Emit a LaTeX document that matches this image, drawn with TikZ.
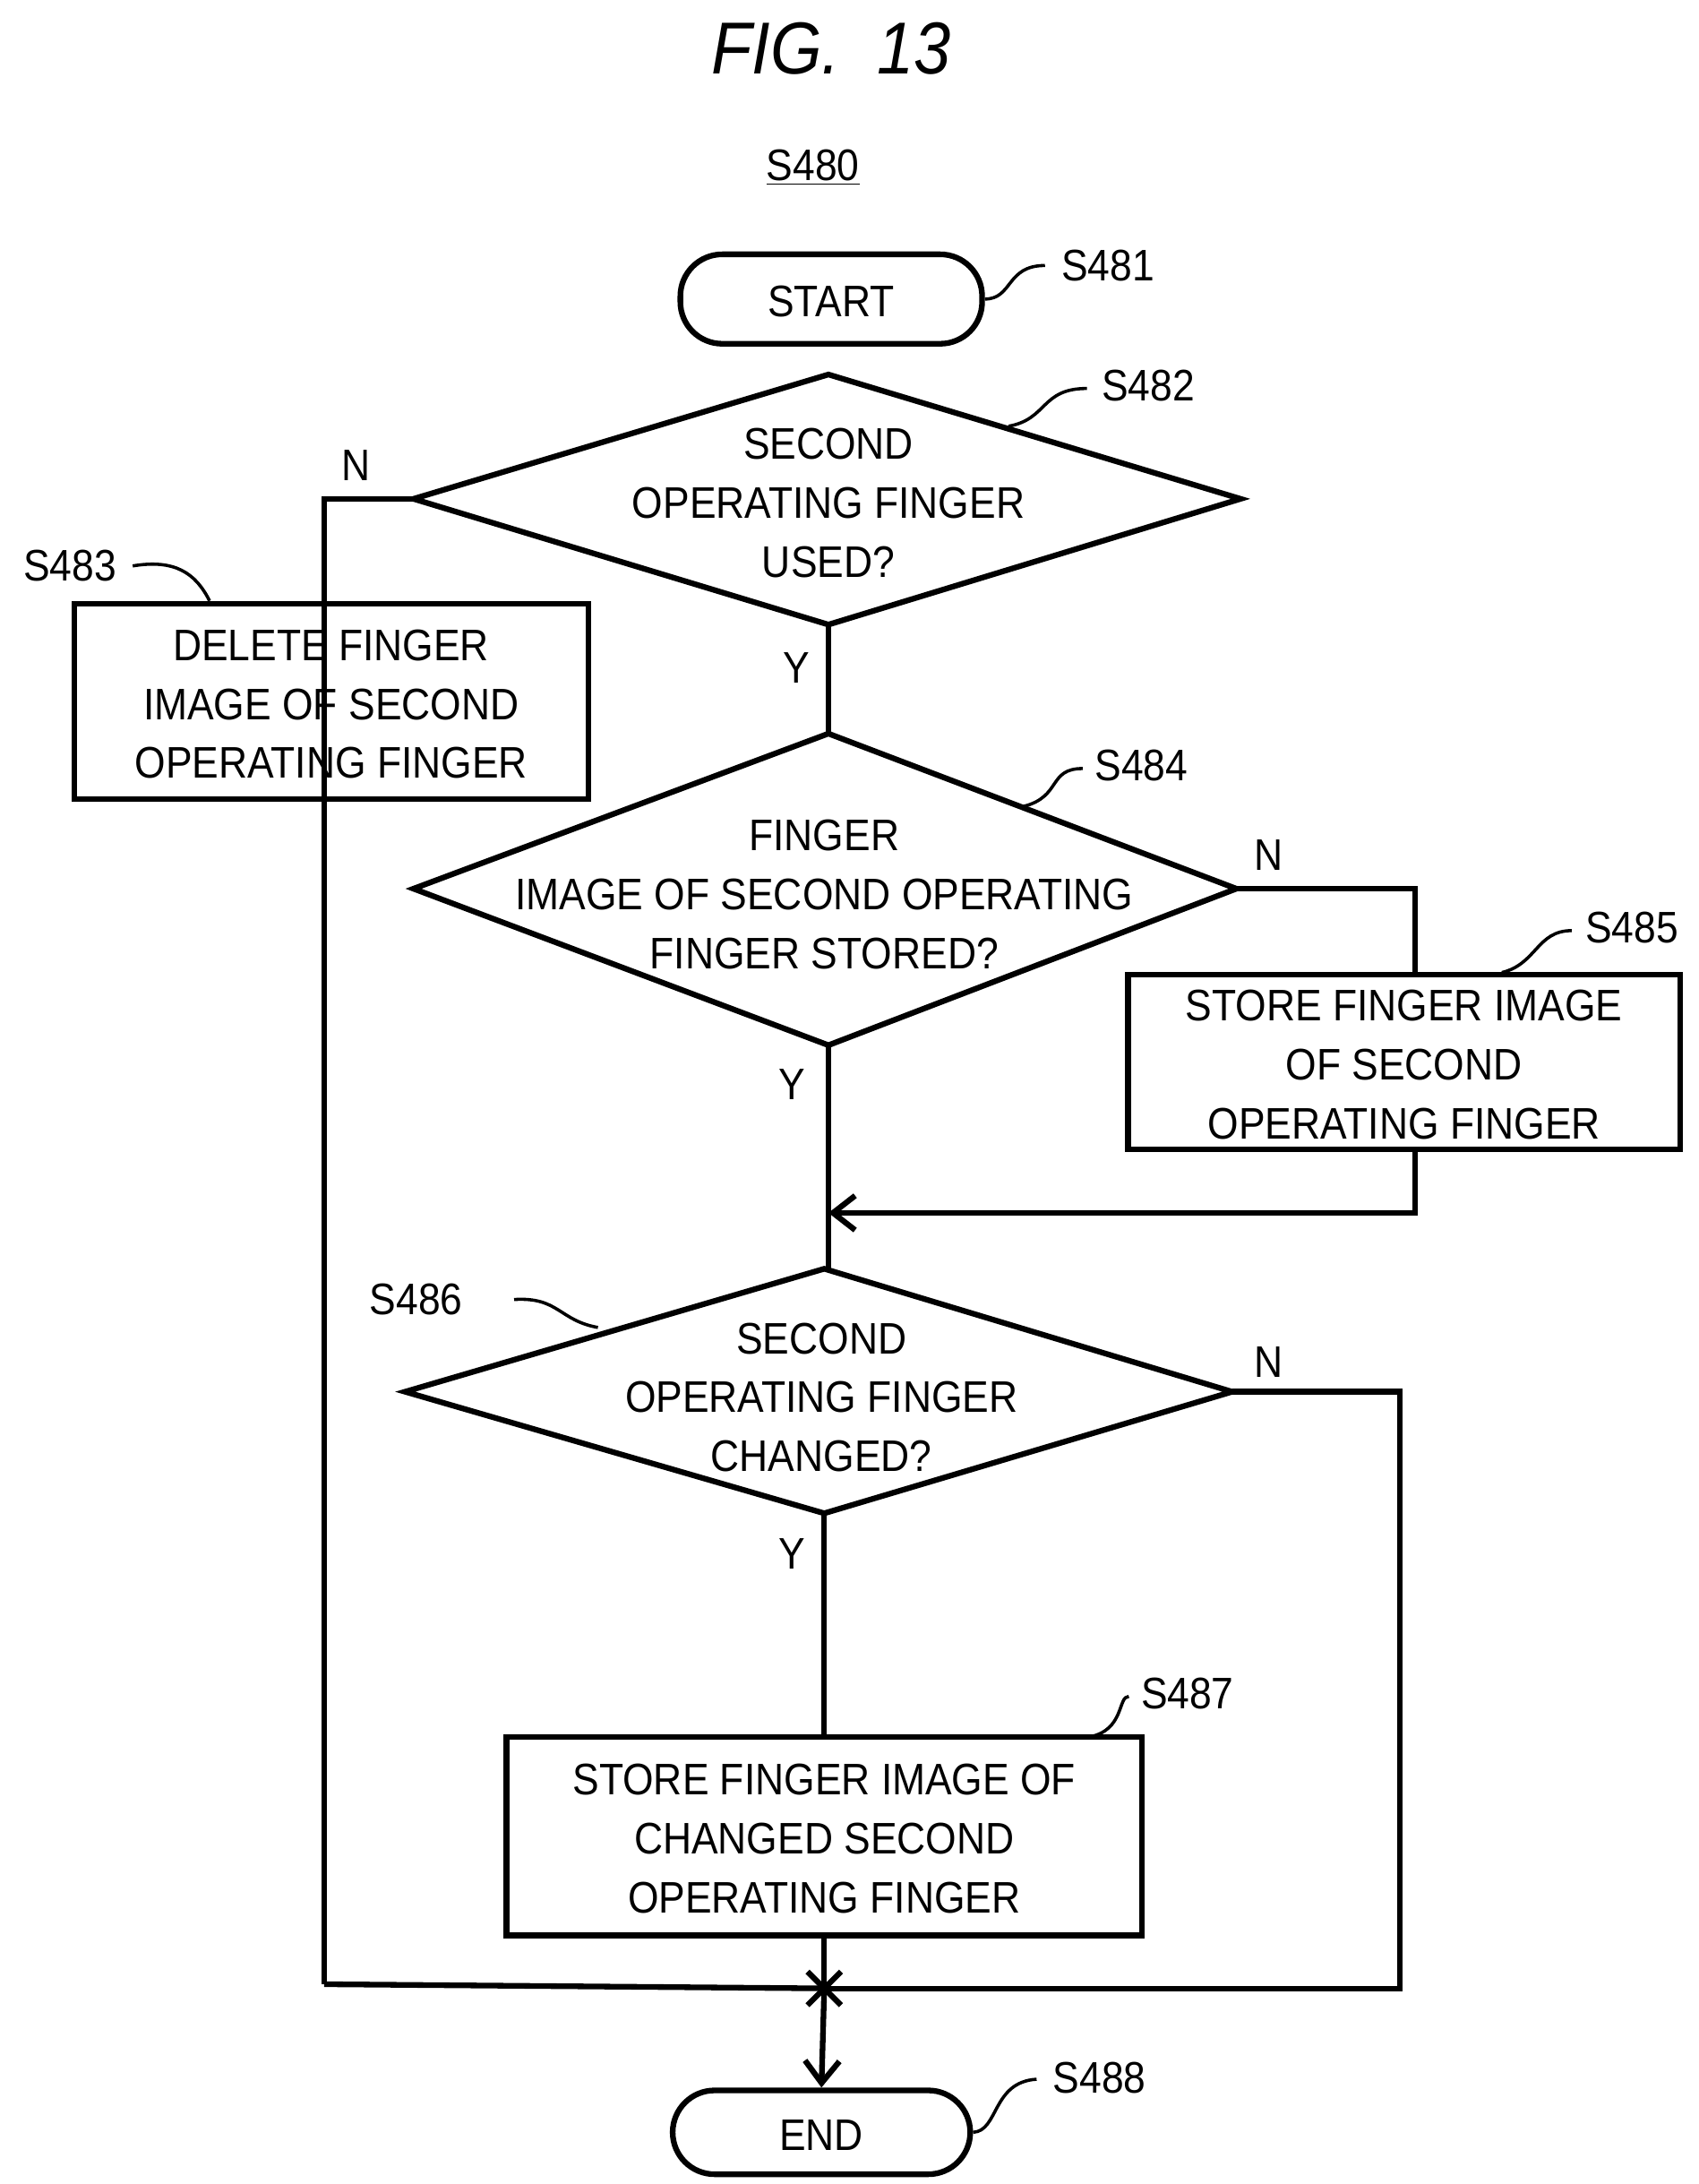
\documentclass[tikz,border=0pt]{standalone}
\usepackage{fontspec}
\setmainfont{Liberation Sans}[FakeStretch=0.9]
\usetikzlibrary{arrows.meta}
\begin{document}
\begin{tikzpicture}[x=0.02cm,y=-0.02cm,line width=2.3pt,
  txt/.style={font=\fontsize{18}{24}\selectfont,align=center,inner sep=0},
  lbl/.style={font=\fontsize{18}{22}\selectfont,inner sep=0},
  box/.style={draw,rectangle,inner sep=0},
  term/.style={draw,rounded corners=30*0.02cm,inner sep=0},
  sq/.style={line width=1.3pt},
  arr/.style={-{Straight Barb[length=9pt,width=14pt,line width=2.3pt]}}]
\useasboundingbox (0,0) rectangle (1216,1563);
\node[font=\fontsize{30}{36}\selectfont\itshape] (title) at (595,35) {FIG.\ \ 13};
\node[lbl] (s480) at (582,120) {\underline{S480}};
% start
\node[term,minimum width=216*0.02cm,minimum height=64*0.02cm] (start) at (595,214) {};
\node[txt] (starttxt) at (595,216) {START};
\node[lbl] (l481) at (793,190) {S481};
\draw[sq] (start.east) .. controls (725,214) and (720,190) .. (748,190);
% D482
\coordinate (d1t) at (593,268); \coordinate (d1l) at (296,357);
\coordinate (d1r) at (888,357); \coordinate (d1b) at (593,447);
\draw (d1t)--(d1r)--(d1b)--(d1l)--cycle;
\node[txt] (d1) at (593,360) {SECOND\\OPERATING FINGER\\USED?};
\node[lbl] (l482) at (822,276) {S482};
\draw[sq] (722,305) .. controls (750,300) and (745,278) .. (778,278);
\node[lbl] (n1) at (255,333) {N};
\draw (d1l) -- (232,357) coordinate (c1) -- (232,1420) coordinate (c2);
% S483
\node[box,minimum width=368*0.02cm,minimum height=140*0.02cm] (b483) at (237,502) {};
\node[txt] (b483t) at (237,504) {DELETE FINGER\\IMAGE OF SECOND\\OPERATING FINGER};
\node[lbl] (l483) at (50,405) {S483};
\draw[sq] (95,405) .. controls (125,400) and (140,410) .. (150,430);
\node[lbl] (y1) at (570,478) {Y};
\draw (d1b) -- (593,525);
% D484
\coordinate (d2t) at (593,525); \coordinate (d2l) at (296,636);
\coordinate (d2r) at (885,636); \coordinate (d2b) at (593,748);
\draw (d2t)--(d2r)--(d2b)--(d2l)--cycle;
\node[txt] (d2) at (590,640) {FINGER\\IMAGE OF SECOND OPERATING\\FINGER STORED?};
\node[lbl] (l484) at (817,548) {S484};
\draw[sq] (733,577) .. controls (760,570) and (750,550) .. (775,550);
\node[lbl] (n2) at (908,612) {N};
% S485
\node[box,minimum width=395*0.02cm,minimum height=125*0.02cm] (b485) at (1005,760) {};
\node[txt] (b485t) at (1005,762) {STORE FINGER IMAGE\\OF SECOND\\OPERATING FINGER};
\node[lbl] (l485) at (1168,664) {S485};
\draw[sq] (1075,696) .. controls (1100,690) and (1100,666) .. (1125,666);
\draw (d2r) -- (1013,636) -- (1013,698);
\draw[arr] (1013,823) -- (1013,868) -- (593,868);
\node[lbl] (y2) at (567,776) {Y};
\draw (d2b) -- (593,908);
% D486
\coordinate (d3t) at (590,908); \coordinate (d3l) at (290,996);
\coordinate (d3r) at (882,996); \coordinate (d3b) at (590,1083);
\draw (d3t)--(d3r)--(d3b)--(d3l)--cycle;
\node[txt] (d3) at (588,1000) {SECOND\\OPERATING FINGER\\CHANGED?};
\node[lbl] (l486) at (298,930) {S486};
\draw[sq] (368,930) .. controls (400,928) and (400,945) .. (428,950);
\node[lbl] (n3) at (908,975) {N};
\draw (d3r) -- (1002,996) -- (1002,1423) -- (590,1423) coordinate (j);
\node[lbl] (y3) at (567,1112) {Y};
\draw (d3b) -- (590,1243);
% S487
\node[box,minimum width=455*0.02cm,minimum height=142*0.02cm] (b487) at (590,1314) {};
\node[txt] (b487t) at (590,1316) {STORE FINGER IMAGE OF\\CHANGED SECOND\\OPERATING FINGER};
\node[lbl] (l487) at (850,1212) {S487};
\draw[sq] (780,1243) .. controls (805,1238) and (800,1214) .. (808,1214);
\draw (b487.south) -- (j);
\draw (c2) -- (j);
\draw (578,1411) -- (602,1435); \draw (578,1435) -- (602,1411);
% END
\node[term,minimum width=213*0.02cm,minimum height=60*0.02cm] (end) at (588,1526) {};
\node[txt] (endtxt) at (588,1528) {END};
\draw[arr] (j) -- (end.north);
\node[lbl] (l488) at (787,1487) {S488};
\draw[sq] (end.east) .. controls (715,1525) and (710,1490) .. (742,1488);
\end{tikzpicture}
\end{document}
